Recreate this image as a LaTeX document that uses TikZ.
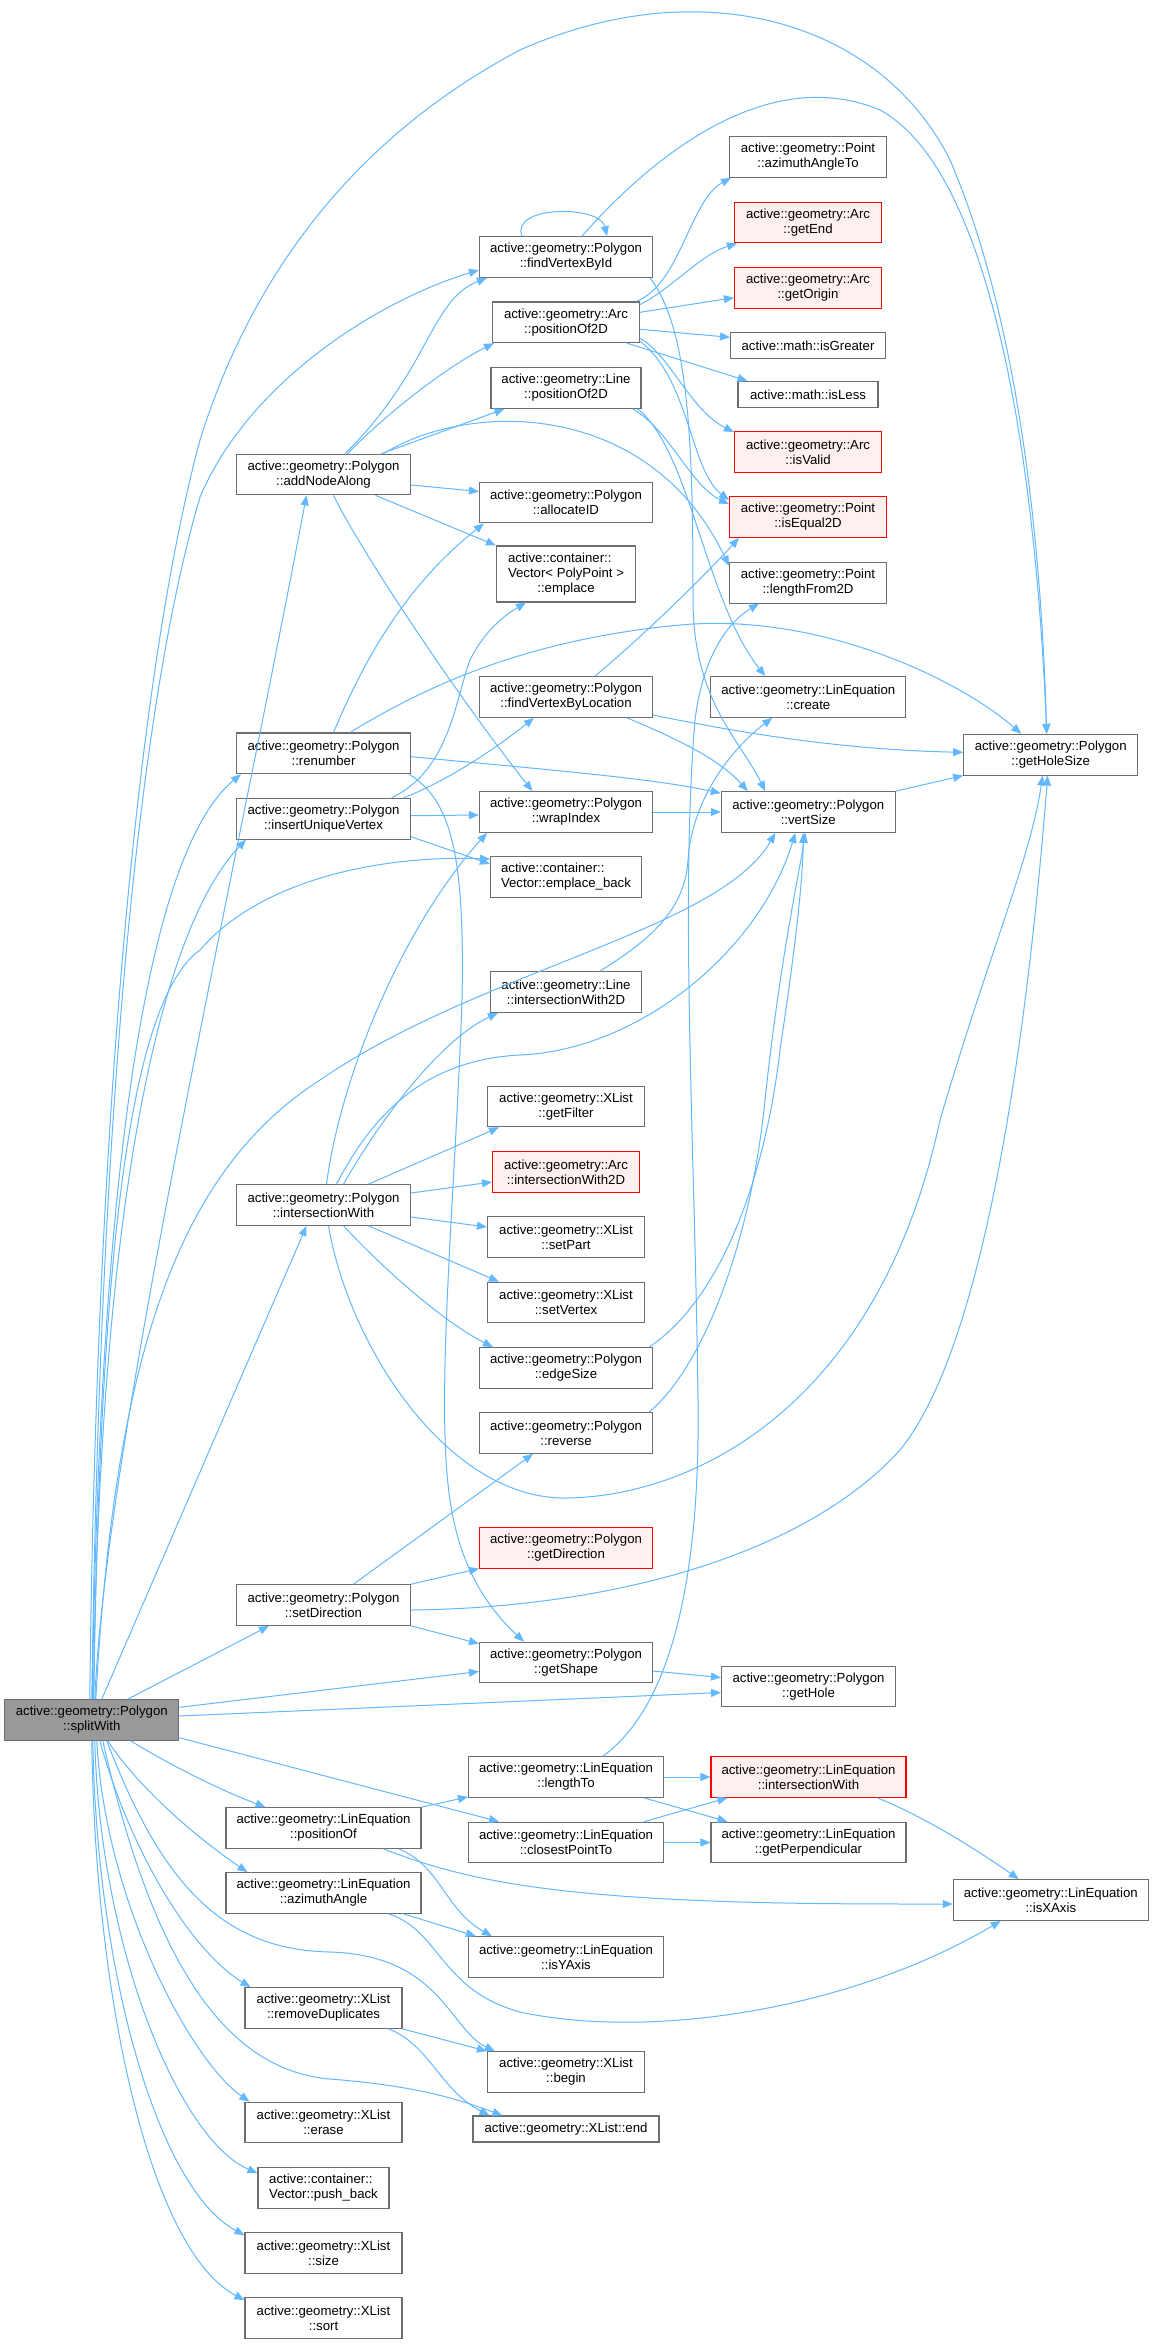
\documentclass[tikz,border=0pt]{standalone}
\usepackage{fontspec}
\setmainfont{Liberation Sans}
\usetikzlibrary{arrows.meta,calc}
\definecolor{edgec}{HTML}{63B8FF}
\definecolor{bordc}{HTML}{6E6E6E}
\definecolor{rootf}{HTML}{999999}
\definecolor{redf}{HTML}{FFF0F0}
\begin{document}
\begin{tikzpicture}[x=0.75pt,y=-0.75pt,
  fn/.style={draw=bordc, line width=0.8pt, fill=white, inner sep=1pt,
    font=\fontsize{9.9pt}{11.25pt}\selectfont, align=center, minimum height=30.5pt},
  rednode/.style={fn, draw=red, fill=redf},
  rootnode/.style={fn, fill=rootf},
  wd/.style={minimum width=#1*0.75pt},
  one/.style={minimum height=19.5pt},
  edg/.style={draw=edgec, line width=0.75pt, -{Triangle[length=7.5pt,width=6pt]}}]
\fill[white] (0,0) rectangle (1153,2344);
\useasboundingbox (0,0) rectangle (1153,2344);

% column 1
\node[rootnode,wd=174] (root) at (91.8,1720) {active::geometry::Polygon\\::splitWith};
\node[fn,wd=174] (addNodeAlong) at (323.5,474.5) {active::geometry::Polygon\\::addNodeAlong};
\node[fn,wd=174] (renumber) at (323.5,753.3) {active::geometry::Polygon\\::renumber};
\node[fn,wd=174] (insertUV) at (323.5,818.7) {active::geometry::Polygon\\::insertUniqueVertex};
\node[fn,wd=174] (polyInter) at (323.5,1205) {active::geometry::Polygon\\::intersectionWith};
\node[fn,wd=174] (setDir) at (323.5,1605) {active::geometry::Polygon\\::setDirection};
\node[fn,wd=195] (posOf) at (323.5,1828) {active::geometry::LinEquation\\::positionOf};
\node[fn,wd=195] (azAngle) at (323.5,1893) {active::geometry::LinEquation\\::azimuthAngle};
\node[fn,wd=157] (removeDup) at (323.5,2008) {active::geometry::XList\\::removeDuplicates};
\node[fn,wd=157] (erase) at (323.5,2122.5) {active::geometry::XList\\::erase};
\node[fn,wd=131,align=left] (pushBack) at (323.5,2188) {active::container::\\Vector::push\_back};
\node[fn,wd=157] (xsize) at (323.5,2253) {active::geometry::XList\\::size};
\node[fn,wd=157] (xsort) at (323.5,2318) {active::geometry::XList\\::sort};

% column 2
\node[fn,wd=173] (findById) at (566,257) {active::geometry::Polygon\\::findVertexById};
\node[fn,wd=147] (arcPos) at (566,322.3) {active::geometry::Arc\\::positionOf2D};
\node[fn,wd=150] (linePos) at (566,388) {active::geometry::Line\\::positionOf2D};
\node[fn,wd=173] (allocID) at (566,502.5) {active::geometry::Polygon\\::allocateID};
\node[fn,wd=139,minimum height=42pt] (emplace) at (566,574) {\begin{tabular}{@{}l@{}}active::container::\\Vector< PolyPoint >\\\multicolumn{1}{@{}c@{}}{::emplace}\end{tabular}};
\node[fn,wd=173] (findByLoc) at (566,697) {active::geometry::Polygon\\::findVertexByLocation};
\node[fn,wd=173] (wrapIdx) at (566,812) {active::geometry::Polygon\\::wrapIndex};
\node[fn,wd=151,align=left] (emplaceBack) at (566,877) {active::container::\\Vector::emplace\_back};
\node[fn,wd=151] (lineInter) at (566,992) {active::geometry::Line\\::intersectionWith2D};
\node[fn,wd=157] (getFilter) at (566,1106.5) {active::geometry::XList\\::getFilter};
\node[rednode,wd=147] (arcInter) at (566,1172) {active::geometry::Arc\\::intersectionWith2D};
\node[fn,wd=157] (setPart) at (566,1237) {active::geometry::XList\\::setPart};
\node[fn,wd=157] (setVertex) at (566,1302.5) {active::geometry::XList\\::setVertex};
\node[fn,wd=173] (edgeSize) at (566,1368) {active::geometry::Polygon\\::edgeSize};
\node[fn,wd=173] (reverse) at (566,1433) {active::geometry::Polygon\\::reverse};
\node[rednode,wd=173] (getDir) at (566,1547.7) {active::geometry::Polygon\\::getDirection};
\node[fn,wd=173] (getShape) at (566,1662.5) {active::geometry::Polygon\\::getShape};
\node[fn,wd=195] (lengthTo) at (566,1777) {active::geometry::LinEquation\\::lengthTo};
\node[fn,wd=195] (closest) at (566,1842.5) {active::geometry::LinEquation\\::closestPointTo};
\node[fn,wd=195] (isY) at (566,1957) {active::geometry::LinEquation\\::isYAxis};
\node[fn,wd=157] (xbegin) at (566,2072) {active::geometry::XList\\::begin};
\node[fn,wd=186,one] (xend) at (566,2129) {active::geometry::XList::end};

% column 3
\node[fn,wd=157] (azTo) at (808,157) {active::geometry::Point\\::azimuthAngleTo};
\node[rednode,wd=147] (getEnd) at (808,222.5) {active::geometry::Arc\\::getEnd};
\node[rednode,wd=147] (getOrigin) at (808,287.7) {active::geometry::Arc\\::getOrigin};
\node[fn,wd=155,one] (isGreater) at (808,345.3) {active::math::isGreater};
\node[fn,wd=140,one] (isLess) at (808,394.5) {active::math::isLess};
\node[rednode,wd=147] (isValid) at (808,452) {active::geometry::Arc\\::isValid};
\node[rednode,wd=157] (isEqual) at (808,517) {active::geometry::Point\\::isEqual2D};
\node[fn,wd=157] (lengthFrom) at (808,582.7) {active::geometry::Point\\::lengthFrom2D};
\node[fn,wd=195] (create) at (808.3,697) {active::geometry::LinEquation\\::create};
\node[fn,wd=174] (vertSize) at (808.3,812) {active::geometry::Polygon\\::vertSize};
\node[fn,wd=174] (getHole) at (808.5,1686.5) {active::geometry::Polygon\\::getHole};
\node[rednode,wd=195] (linInter) at (808.5,1777) {active::geometry::LinEquation\\::intersectionWith};
\node[fn,wd=195] (perp) at (808.5,1842.5) {active::geometry::LinEquation\\::getPerpendicular};

% column 4
\node[fn,wd=174] (holeSize) at (1050.7,754.7) {active::geometry::Polygon\\::getHoleSize};
\node[fn,wd=195] (isX) at (1050.8,1900) {active::geometry::LinEquation\\::isXAxis};

% ---- edges from root
\draw[edg] ($(root.north)+(-2,0)$) .. controls (95,1200) and (130,700) .. (200,440)
  .. controls (250,280) and (350,140) .. (520,50) .. controls (700,-30) and (880,20) .. (950,160)
  .. controls (1010,300) and (1040,500) .. ($(holeSize.north)+(-4,0)$);
\draw[edg] ($(root.north)+(0,0)$) .. controls (100,1100) and (140,700) .. (200,497)
  .. controls (250,380) and (380,300) .. ($(findById.west)+(0,13)$);
\draw[edg] ($(root.north)+(3,0)$) .. controls (105,1450) and (230,900) .. ($(addNodeAlong.south)+(-17,0)$);
\draw[edg] ($(root.north)+(0.5,0)$) .. controls (100,1150) and (150,850) .. ($(renumber.south west)+(5,0)$);
\draw[edg] ($(root.north)+(1.5,0)$) .. controls (100,1200) and (160,930) .. ($(insertUV.south west)+(10,0)$);
\draw[edg] ($(root.north)+(2,0)$) .. controls (100,1250) and (130,1000) .. (200,950)
  .. controls (260,880) and (380,855) .. ($(emplaceBack.west)+(0,-18)$);
\draw[edg] ($(root.north)+(4,0)$) .. controls (115,1350) and (180,1170) .. (320,1080)
  .. controls (480,970) and (720,930) .. ($(vertSize.south)+(-33,0)$);
\draw[edg] ($(root.north)+(10,0)$) -- ($(polyInter.south)+(-17,0)$);
\draw[edg] ($(root.north)+(36,0)$) -- ($(setDir.south west)+(33,0)$);
\draw[edg] ($(root.east)+(0,-12.7)$) -- ($(getShape.west)+(0,9)$);
\draw[edg] ($(root.east)+(0,-4)$) -- ($(getHole.west)+(0,6)$);
\draw[edg] ($(root.east)+(0,17.7)$) -- ($(closest.north west)+(31,0)$);
\draw[edg] ($(root.south)+(39,0)$) .. controls (170,1765) and (220,1790) .. ($(posOf.north west)+(40,0)$);
\draw[edg] ($(root.south)+(16,0)$) .. controls (140,1790) and (200,1840) .. ($(azAngle.north west)+(22,0)$);
\draw[edg] ($(root.south)+(8,0)$) .. controls (130,1850) and (190,1950) .. ($(removeDup.north west)+(6,0)$);
\draw[edg] ($(root.south)+(5,0)$) .. controls (105,1900) and (190,2060) .. ($(erase.north west)+(5,0)$);
\draw[edg] ($(root.south)+(3,0)$) .. controls (100,1950) and (180,2140) .. ($(pushBack.north west)+(0,6)$);
\draw[edg] ($(root.south)+(1,0)$) .. controls (97,1980) and (160,2190) .. ($(xsize.north west)+(0,3)$);
\draw[edg] ($(root.south)+(0,0)$) .. controls (95,2000) and (150,2250) .. ($(xsort.north west)+(0,3)$);
\draw[edg] ($(root.south)+(15,0)$) .. controls (160,1880) and (220,1950) .. (330,1952)
  .. controls (440,1955) and (450,2030) .. ($(xbegin.north west)+(8,0)$);
\draw[edg] ($(root.south)+(11,0)$) .. controls (150,1950) and (220,2070) .. (330,2079)
  .. controls (420,2086) and (460,2100) .. ($(xend.north west)+(30,0)$);

% ---- addNodeAlong
\draw[edg] ($(addNodeAlong.north)+(21.5,0)$) .. controls (430,370) and (430,300) .. ($(findById.south west)+(8,0)$);
\draw[edg] ($(addNodeAlong.north)+(24,0)$) .. controls (390,410) and (450,365) .. ($(arcPos.south west)+(2,0)$);
\draw[edg] ($(addNodeAlong.north)+(58,0)$) -- ($(linePos.south west)+(14,0)$);
\draw[edg] ($(addNodeAlong.north)+(60,0)$) .. controls (470,400) and (650,400) .. ($(lengthFrom.north west)+(0,4)$);
\draw[edg] ($(addNodeAlong.east)+(0,10.5)$) -- ($(allocID.west)+(0,-11)$);
\draw[edg] ($(addNodeAlong.south)+(52,0)$) -- (emplace.north west);
\draw[edg] ($(addNodeAlong.south)+(10,0)$) .. controls (360,550) and (460,700) .. ($(wrapIdx.north west)+(53.5,0)$);

% ---- findVertexById
\draw[edg] ($(findById.north)+(-44,0)$) .. controls (510,205) and (600,205) .. ($(findById.north)+(41,0)$);
\draw[edg] ($(findById.south east)+(-3,0)$) .. controls (690,330) and (693,450) .. (693,600)
  .. controls (693,700) and (740,740) .. ($(vertSize.north)+(-43,0)$);
\draw[edg] ($(findById.north)+(16,0)$) .. controls (640,170) and (760,60) .. (880,110)
  .. controls (990,170) and (1035,450) .. ($(holeSize.north)+(-4,0)$);

% ---- Arc::positionOf2D
\draw[edg] ($(arcPos.north east)+(-4,0)$) .. controls (680,285) and (690,200) .. ($(azTo.south west)+(2,0)$);
\draw[edg] ($(arcPos.north east)+(0,3)$) .. controls (670,290) and (700,255) .. ($(getEnd.south west)+(3,0)$);
\draw[edg] ($(arcPos.east)+(0,-10)$) -- ($(getOrigin.west)+(0,10)$);
\draw[edg] ($(arcPos.east)+(0,7)$) -- ($(isGreater.west)+(0,-8)$);
\draw[edg] ($(arcPos.south east)+(-13,0)$) -- ($(isLess.north west)+(10,0)$);
\draw[edg] ($(arcPos.east)+(0,16)$) .. controls (670,355) and (690,410) .. ($(isValid.north west)+(0,1)$);
\draw[edg] ($(arcPos.south east)+(0,-2)$) .. controls (690,380) and (690,470) .. ($(isEqual.north west)+(0,4)$);

% ---- Line::positionOf2D
\draw[edg] ($(linePos.south east)+(-9,0)$) .. controls (670,430) and (690,485) .. ($(isEqual.north west)+(0,8)$);
\draw[edg] ($(linePos.south east)+(-4,0)$) .. controls (690,450) and (705,600) .. ($(create.north west)+(55,0)$);

% ---- lengthTo -> lengthFrom2D
\draw[edg] ($(lengthTo.north)+(37,0)$) .. controls (680,1700) and (700,1550) .. (698,1400)
  .. controls (695,1150) and (680,900) .. (695,720) .. controls (705,640) and (740,615) .. ($(lengthFrom.south west)+(30,0)$);

% ---- findVertexByLocation
\draw[edg] ($(findByLoc.north)+(29,0)$) .. controls (650,630) and (710,570) .. ($(isEqual.south west)+(10,0)$);
\draw[edg] ($(findByLoc.east)+(0,18)$) .. controls (750,735) and (850,750) .. ($(holeSize.west)+(0,-2.4)$);
\draw[edg] ($(findByLoc.south east)+(-26,0)$) .. controls (680,740) and (720,760) .. ($(vertSize.north west)+(27,0)$);

% ---- renumber
\draw[edg] ($(renumber.north)+(10,0)$) .. controls (360,670) and (400,590) .. ($(allocID.south west)+(5,0)$);
\draw[edg] ($(renumber.north)+(26.5,0)$) .. controls (420,690) and (520,640) .. (680,625)
  .. controls (820,612) and (960,680) .. ($(holeSize.north west)+(58,0)$);
\draw[edg] ($(renumber.east)+(0,3.4)$) .. controls (550,770) and (650,778) .. ($(vertSize.north west)+(0,2)$);
\draw[edg] ($(renumber.south east)+(-2,0)$) .. controls (450,800) and (465,850) .. (462,1000)
  .. controls (455,1200) and (435,1400) .. (450,1500) .. controls (460,1570) and (490,1610) .. ($(getShape.north west)+(45,0)$);

% ---- insertUniqueVertex
\draw[edg] ($(insertUV.north)+(68,0)$) .. controls (450,770) and (455,700) .. (470,660)
  .. controls (485,630) and (505,615) .. ($(emplace.south west)+(30,0)$);
\draw[edg] ($(insertUV.north)+(80,0)$) .. controls (450,780) and (500,745) .. ($(findByLoc.south west)+(55,0)$);
\draw[edg] ($(insertUV.east)+(0,-3)$) -- ($(wrapIdx.west)+(0,3)$);
\draw[edg] ($(insertUV.east)+(0,18)$) -- ($(emplaceBack.west)+(0,-13)$);

% ---- misc
\draw[edg] (wrapIdx.east) -- (vertSize.west);
\draw[edg] (vertSize.north east) -- (holeSize.south west);
\draw[edg] ($(lineInter.north)+(34,0)$) .. controls (650,940) and (685,910) .. (688,860)
  .. controls (692,800) and (730,750) .. ($(create.south west)+(62,0)$);

% ---- Polygon::intersectionWith
\draw[edg] ($(polyInter.north)+(3,0)$) .. controls (340,1080) and (400,930) .. ($(wrapIdx.south west)+(8,0)$);
\draw[edg] ($(polyInter.north)+(13,0)$) .. controls (370,1120) and (420,1060) .. (520,1055)
  .. controls (640,1050) and (760,950) .. ($(vertSize.south)+(-13,0)$);
\draw[edg] ($(polyInter.north)+(20,0)$) .. controls (380,1120) and (440,1040) .. ($(lineInter.south west)+(8,0)$);
\draw[edg] ($(polyInter.north)+(45,0)$) -- ($(getFilter.south west)+(12,0)$);
\draw[edg] ($(polyInter.east)+(0,-12)$) -- ($(arcInter.west)+(0,10)$);
\draw[edg] ($(polyInter.east)+(0,12)$) -- ($(setPart.west)+(0,-10)$);
\draw[edg] ($(polyInter.south)+(45,0)$) -- ($(setVertex.north west)+(12,0)$);
\draw[edg] ($(polyInter.south)+(20,0)$) .. controls (380,1265) and (440,1320) .. ($(edgeSize.north west)+(14,0)$);
\draw[edg] ($(polyInter.south)+(5,0)$) .. controls (350,1350) and (450,1500) .. (566.7,1498)
  .. controls (700,1496) and (880,1400) .. (940,1120) .. controls (990,950) and (1030,860) .. ($(holeSize.south)+(-8,0)$);

\draw[edg] ($(edgeSize.north east)+(-4,0)$) .. controls (720,1300) and (765,1180) .. (780,1050)
  .. controls (795,950) and (803,880) .. ($(vertSize.south)+(-5,0)$);
\draw[edg] ($(reverse.north east)+(-4,0)$) .. controls (700,1370) and (750,1250) .. (765,1100)
  .. controls (780,960) and (798,880) .. ($(vertSize.south)+(-3,0)$);

% ---- setDirection
\draw[edg] ($(setDir.north)+(30,0)$) -- ($(reverse.south)+(-33,0)$);
\draw[edg] (setDir.north east) -- (getDir.south west);
\draw[edg] ($(setDir.east)+(0,5)$) .. controls (600,1608) and (800,1560) .. (900,1450)
  .. controls (990,1340) and (1030,1000) .. ($(holeSize.south)+(-3,0)$);
\draw[edg] (setDir.south east) -- ($(getShape.north west)+(0,2)$);

\draw[edg] ($(getShape.east)+(0,8.5)$) -- ($(getHole.west)+(0,-9)$);

% ---- LinEquation
\draw[edg] (posOf.north east) -- ($(lengthTo.south west)+(0,-1)$);
\draw[edg] ($(posOf.south east)+(-38,0)$) .. controls (450,1875) and (520,1890) .. (650,1898)
  .. controls (750,1904) and (850,1904) .. ($(isX.west)+(0,4)$);
\draw[edg] ($(posOf.south east)+(-23,0)$) .. controls (440,1865) and (445,1910) .. ($(isY.north west)+(24,0)$);
\draw[edg] ($(azAngle.south east)+(-18,0)$) -- ($(isY.north west)+(8,0)$);
\draw[edg] ($(azAngle.south east)+(-33,0)$) .. controls (440,1930) and (440,1990) .. (520,2012)
  .. controls (650,2040) and (850,2010) .. ($(isX.south)+(-50,0)$);
\draw[edg] (removeDup.south east) -- (xbegin.north west);
\draw[edg] ($(removeDup.south east)+(-14,0)$) .. controls (430,2045) and (440,2090) .. ($(xend.north west)+(17,0)$);
\draw[edg] (lengthTo.east) -- (linInter.west);
\draw[edg] ($(lengthTo.south east)+(-20,0)$) -- ($(perp.north west)+(17,0)$);
\draw[edg] ($(closest.north east)+(-20,0)$) -- ($(linInter.south west)+(17,0)$);
\draw[edg] (closest.east) -- (perp.west);
\draw[edg] ($(linInter.south east)+(-29,0)$) .. controls (920,1815) and (970,1845) .. ($(isX.north)+(-32,0)$);
\end{tikzpicture}
\end{document}
